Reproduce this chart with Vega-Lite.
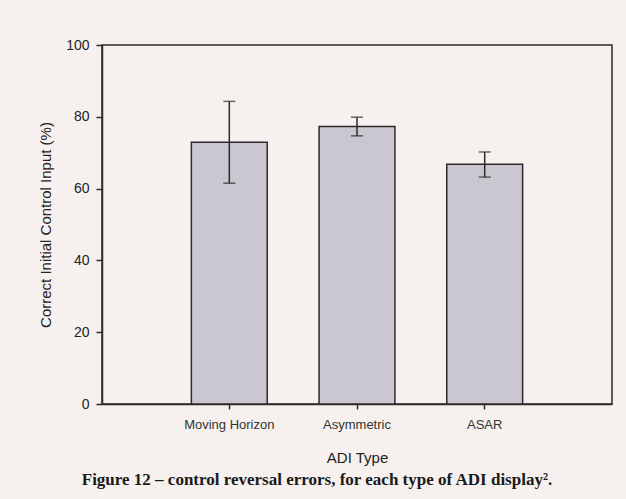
{
  "$schema": "https://vega.github.io/schema/vega-lite/v6.json",
  "width": 510,
  "height": 359,
  "autosize": {"type": "none"},
  "padding": {"left": 102, "top": 45, "right": 14, "bottom": 95},
  "background": "#f6f1ef",
  "config": {
    "view": {"stroke": "#2a2a2a", "strokeWidth": 1.5},
    "font": "Liberation Sans"
  },
  "title": {
    "text": "Figure 12 – control reversal errors, for each type of ADI display².",
    "orient": "bottom",
    "anchor": "middle",
    "dx": -40,
    "offset": 7,
    "font": "Liberation Serif",
    "fontSize": 17,
    "fontWeight": "bold",
    "color": "#1a1a1a"
  },
  "data": {
    "values": [
      {"type": "Moving Horizon", "value": 72.9, "lo": 61.5, "hi": 84.3},
      {"type": "Asymmetric", "value": 77.3, "lo": 74.7, "hi": 79.9},
      {"type": "ASAR", "value": 66.8, "lo": 63.2, "hi": 70.2}
    ]
  },
  "encoding": {
    "x": {
      "field": "type",
      "type": "nominal",
      "sort": null,
      "scale": {"paddingInner": 0.406, "paddingOuter": 0.7},
      "axis": {
        "title": "ADI Type",
        "titleFont": "Liberation Sans",
        "titleFontSize": 15,
        "titleFontWeight": "normal",
        "titleColor": "#222",
        "titlePadding": 19,
        "labelAngle": 0,
        "labelFontSize": 13,
        "labelColor": "#333",
        "labelPadding": 9,
        "domainColor": "#2a2a2a",
        "domainWidth": 1.5,
        "tickColor": "#2a2a2a",
        "tickWidth": 1.5,
        "tickSize": 5
      }
    }
  },
  "layer": [
    {
      "mark": {"type": "bar", "color": "#cac7d1", "stroke": "#2a2a2a", "strokeWidth": 1.5},
      "encoding": {
        "y": {
          "field": "value",
          "type": "quantitative",
          "scale": {"domain": [0, 100], "nice": false},
          "axis": {
            "title": "Correct Initial Control Input (%)",
            "titleFont": "Liberation Sans",
            "titleFontSize": 15,
            "titleFontWeight": "normal",
            "titleColor": "#222",
            "titlePadding": 12,
            "values": [0, 20, 40, 60, 80, 100],
            "grid": false,
            "labelFontSize": 14,
            "labelColor": "#222",
            "labelPadding": 7,
            "domainColor": "#2a2a2a",
            "domainWidth": 1.5,
            "tickColor": "#2a2a2a",
            "tickWidth": 1.5,
            "tickSize": 6
          }
        }
      }
    },
    {
      "mark": {"type": "rule", "color": "#2a2a2a", "strokeWidth": 1.5},
      "encoding": {
        "y": {"field": "lo", "type": "quantitative"},
        "y2": {"field": "hi"}
      }
    },
    {
      "mark": {"type": "tick", "color": "#2a2a2a", "thickness": 1.5, "size": 12, "orient": "horizontal"},
      "encoding": {"y": {"field": "lo", "type": "quantitative"}}
    },
    {
      "mark": {"type": "tick", "color": "#2a2a2a", "thickness": 1.5, "size": 12, "orient": "horizontal"},
      "encoding": {"y": {"field": "hi", "type": "quantitative"}}
    }
  ]
}
